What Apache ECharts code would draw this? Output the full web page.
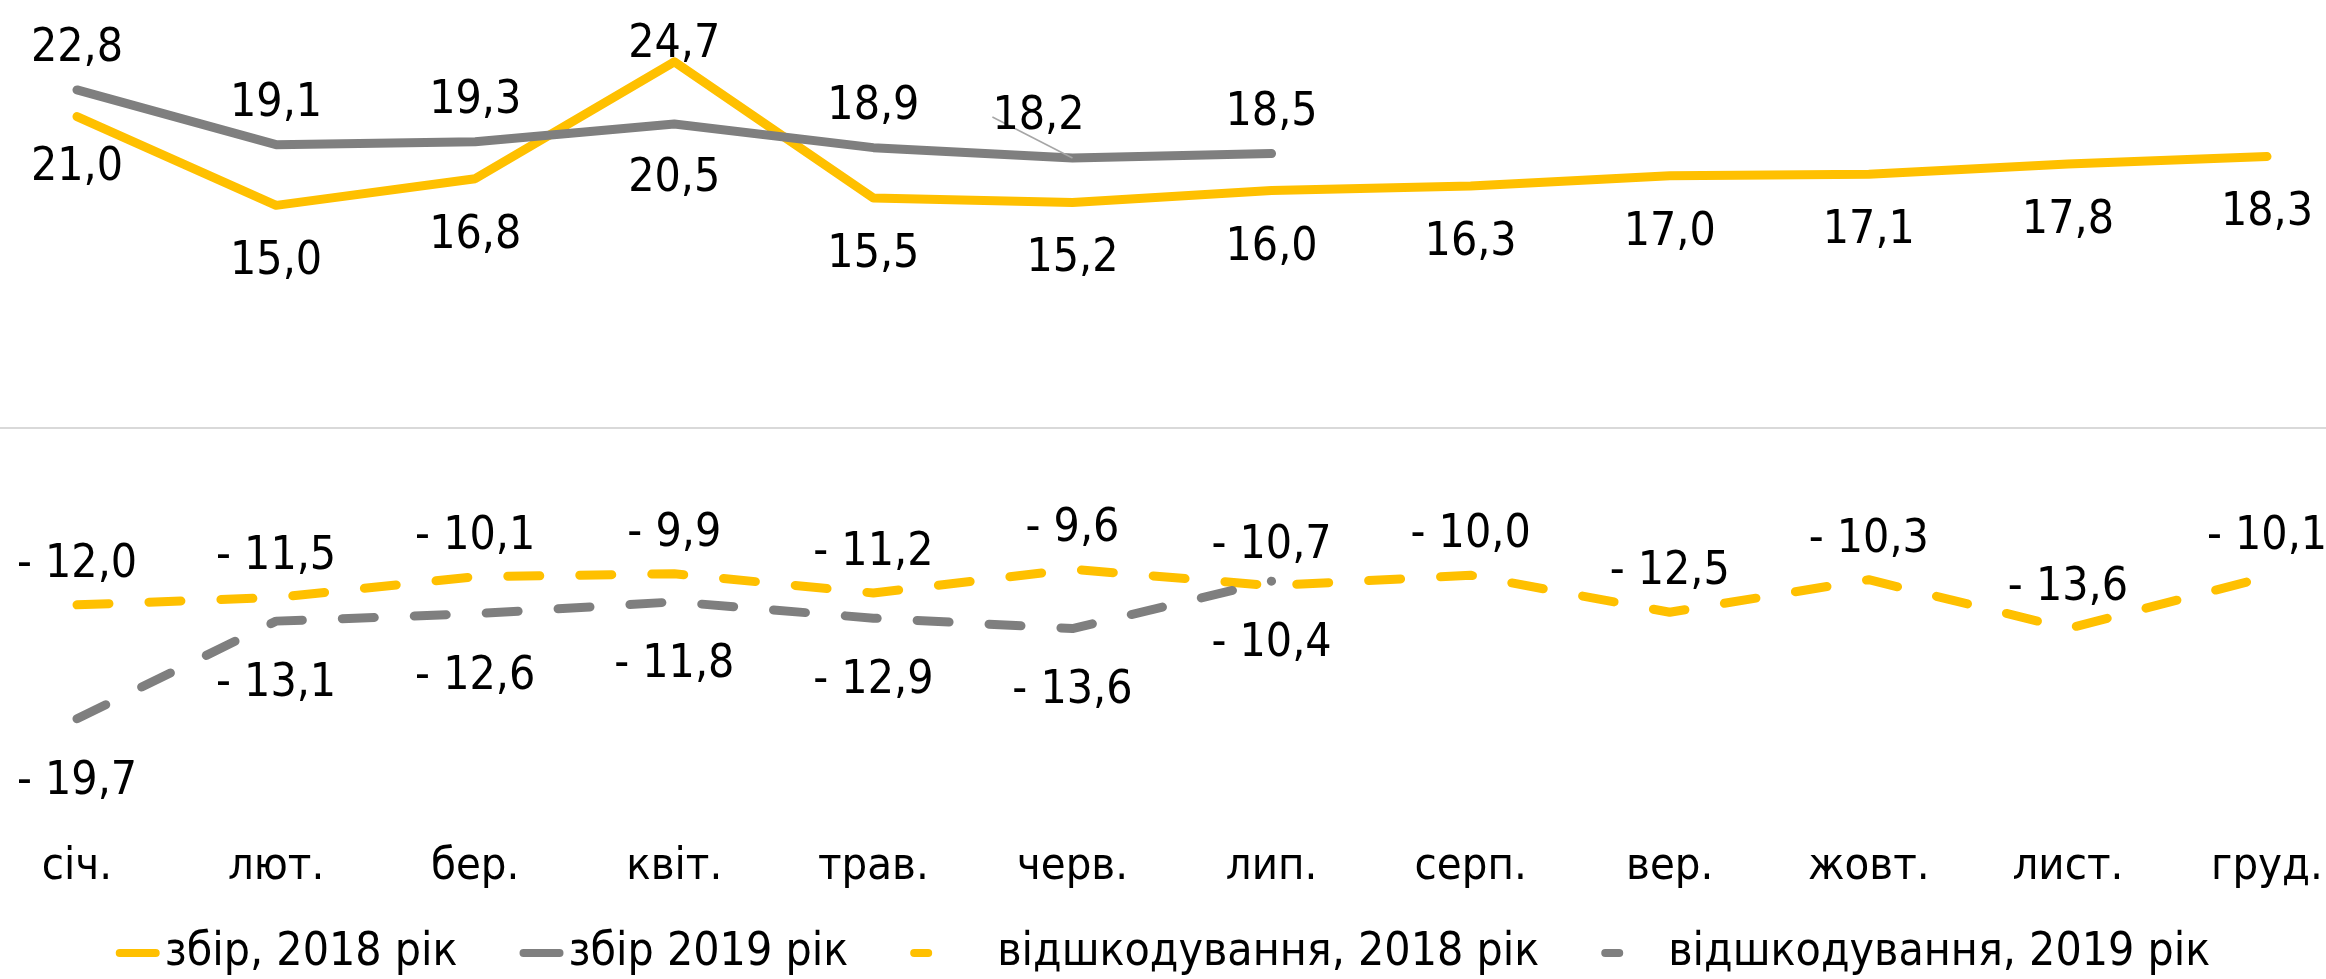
<!DOCTYPE html>
<html>
<head>
<meta charset="utf-8">
<script src="https://cdn.jsdelivr.net/npm/echarts@6/dist/echarts.min.js"></script>
<style>
html,body{margin:0;padding:0;background:#fff;}
#c{width:2326px;height:979px;}
</style>
</head>
<body>
<div id="c"></div>
<script>
const categories = ['січ.','лют.','бер.','квіт.','трав.','черв.','лип.','серп.','вер.','жовт.','лист.','груд.'];
const zbir2018 = [21.0, 15.0, 16.8, 24.7, 15.5, 15.2, 16.0, 16.3, 17.0, 17.1, 17.8, 18.3];
const zbir2019 = [22.8, 19.1, 19.3, 20.5, 18.9, 18.2, 18.5];
const vidsh2018 = [-12.0, -11.5, -10.1, -9.9, -11.2, -9.6, -10.7, -10.0, -12.5, -10.3, -13.6, -10.1];
const vidsh2019 = [-19.7, -13.1, -12.6, -11.8, -12.9, -13.6, -10.4];
const seriesNames = ['збір, 2018 рік', 'збір 2019 рік', 'відшкодування, 2018 рік', 'відшкодування, 2019 рік'];

const YELLOW = '#FFC000';
const GRAY = '#7F7F7F';
const FONT = '"DejaVu Sans Condensed", "Liberation Sans Narrow", sans-serif';
const FS = 46;
const LW = 9;

function fmt(v) {
  const s = Math.abs(v).toFixed(1).replace('.', ',');
  return v < 0 ? '- ' + s : s;
}

function build(values, overrides) {
  return values.map((v, i) => {
    const o = { value: v };
    if (overrides && overrides[i]) Object.assign(o, overrides[i]);
    return o;
  });
}

const baseLabel = (pos, dist) => ({
  show: true,
  position: pos,
  distance: dist,
  formatter: p => fmt(p.value),
  color: '#000',
  fontFamily: FONT,
  fontSize: FS
});

const SOLID_ICON = 'path://M4,0 L40,0 A4,4 0 0 1 40,8 L4,8 A4,4 0 0 1 4,0 Z';
const DASH_ICON = 'path://M4,0 L18,0 A4,4 0 0 1 18,8 L4,8 A4,4 0 0 1 4,0 Z M44,4 L44,4.001 L44,4 Z';

const chart = echarts.init(document.getElementById('c'), null, { renderer: 'canvas' });

const lineCommon = {
  type: 'line', xAxisIndex: 0, yAxisIndex: 0,
  showSymbol: true, symbol: 'circle', symbolSize: 0,
  emphasis: { disabled: true }
};

const leader = { show: true, lineStyle: { color: '#A6A6A6', width: 1.5 } };

const option = {
  backgroundColor: '#fff',
  animation: false,
  textStyle: { fontFamily: FONT },
  grid: [
    { left: 77, right: 59, top: 13, bottom: 167 },
    { left: 0, right: 0, top: 13, bottom: 167 }
  ],
  xAxis: [
    {
      type: 'category', gridIndex: 0, data: categories, boundaryGap: false,
      axisLine: { show: false }, axisTick: { show: false },
      axisLabel: { margin: 33, color: '#000', fontFamily: FONT, fontSize: 45 },
      splitLine: { show: false }
    },
    {
      type: 'value', gridIndex: 1, min: 0, max: 1,
      axisLine: { show: true, onZero: true, lineStyle: { color: '#D9D9D9', width: 2 } },
      axisTick: { show: false }, axisLabel: { show: false }, splitLine: { show: false }
    }
  ],
  yAxis: [
    { type: 'value', gridIndex: 0, min: -26, max: 28, show: false, splitLine: { show: false } },
    { type: 'value', gridIndex: 1, min: -26, max: 28, show: false, splitLine: { show: false } }
  ],
  legend: {
    bottom: -2,
    left: 'center',
    itemWidth: 44,
    itemHeight: 9,
    itemGap: 62,
    textStyle: { color: '#000', fontFamily: FONT, fontSize: FS },
    data: [
      { name: seriesNames[0], icon: SOLID_ICON },
      { name: seriesNames[1], icon: SOLID_ICON },
      { name: seriesNames[2], icon: DASH_ICON, textStyle: { padding: [0, 0, 0, 38] } },
      { name: seriesNames[3], icon: DASH_ICON, textStyle: { padding: [0, 0, 0, 18] } }
    ]
  },
  series: [
    Object.assign({}, lineCommon, {
      name: seriesNames[0],
      data: build(zbir2018, {
        0: { label: { distance: 28 } },
        3: { label: { position: 'top', distance: 0, offset: [0, 6] } }
      }),
      lineStyle: { color: YELLOW, width: LW, cap: 'round', join: 'round' },
      itemStyle: { color: YELLOW },
      label: baseLabel('bottom', 34)
    }),
    Object.assign({}, lineCommon, {
      name: seriesNames[1],
      data: build(zbir2019, {
        3: { label: { position: 'bottom', distance: 32 } },
        5: { labelLine: leader }
      }),
      lineStyle: { color: GRAY, width: LW, cap: 'round', join: 'round' },
      itemStyle: { color: GRAY },
      label: baseLabel('top', 18),
      labelLayout: function (p) {
        if (p.dataIndex === 5) return { dx: -34 };
        return {};
      }
    }),
    Object.assign({}, lineCommon, {
      name: seriesNames[2],
      data: build(vidsh2018),
      lineStyle: { color: YELLOW, width: LW, type: [32, 40], cap: 'round', join: 'round' },
      itemStyle: { color: YELLOW },
      label: baseLabel('top', 17)
    }),
    Object.assign({}, lineCommon, {
      name: seriesNames[3],
      data: build(vidsh2019),
      lineStyle: { color: GRAY, width: LW, type: [32, 40], cap: 'round', join: 'round' },
      itemStyle: { color: GRAY },
      label: baseLabel('bottom', 40)
    })
  ]
};

chart.setOption(option);
</script>
</body>
</html>
